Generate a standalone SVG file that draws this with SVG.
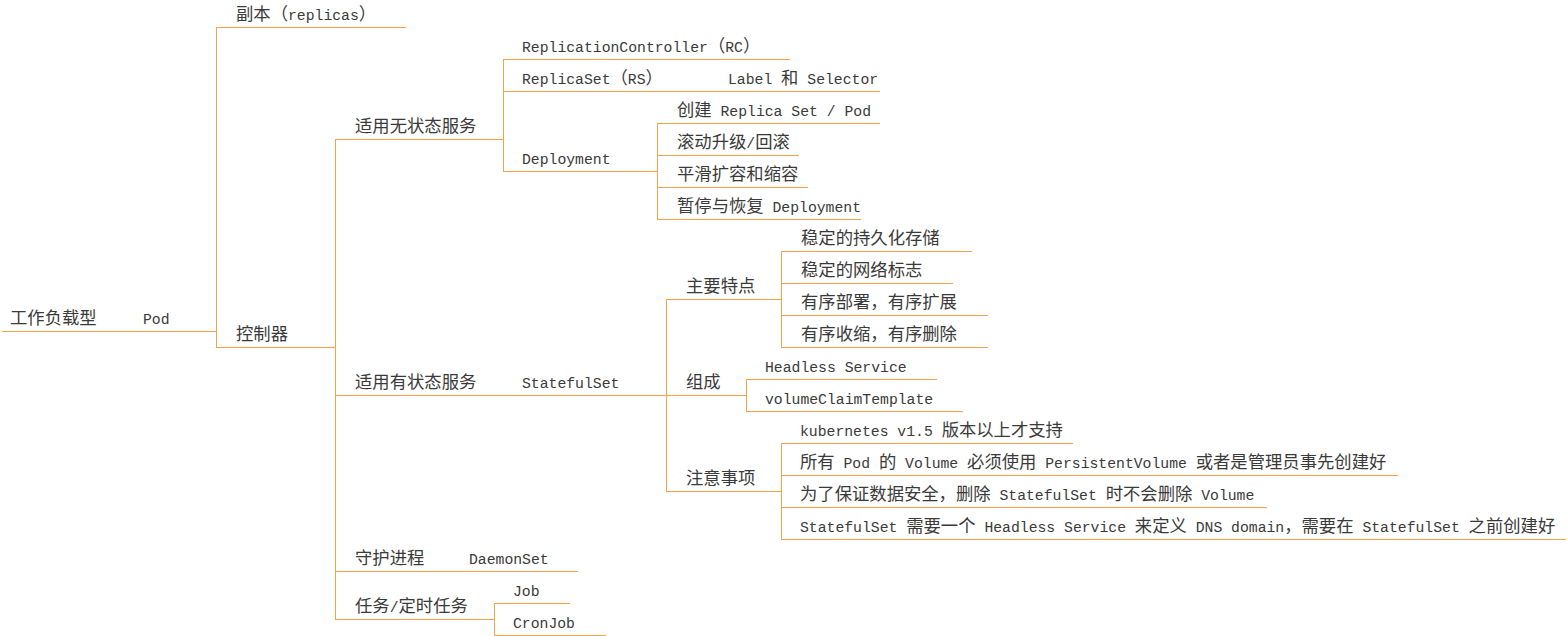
<svg xmlns="http://www.w3.org/2000/svg" width="1567" height="636" viewBox="0 0 1567 636">
<style>
text { font-family: "Liberation Mono", "Noto Sans CJK SC", monospace; font-size: 14.75px; fill: #3a3a3a; }
.c { font-family: "Noto Sans CJK SC", "Liberation Mono", sans-serif; font-size: 17.33px; }
line { stroke: #F4A24E; stroke-width: 1; fill: none; }
</style>
<rect width="1567" height="636" fill="#ffffff"/>
<g id="connectors">
<line x1="216.5" y1="27.5" x2="216.5" y2="347.5"/>
<line x1="335.5" y1="139.5" x2="335.5" y2="619.5"/>
<line x1="503.5" y1="59.5" x2="503.5" y2="171.5"/>
<line x1="657.5" y1="123.5" x2="657.5" y2="219.5"/>
<line x1="666.5" y1="299.5" x2="666.5" y2="491.5"/>
<line x1="781.5" y1="251.5" x2="781.5" y2="347.5"/>
<line x1="746.5" y1="379.5" x2="746.5" y2="411.5"/>
<line x1="781.5" y1="443.5" x2="781.5" y2="539.5"/>
<line x1="494.5" y1="603.5" x2="494.5" y2="635.5"/>
</g>
<g id="n-root"><line x1="2" y1="331.5" x2="124" y2="331.5"/><text x="10" y="324" class="c">工作负载型</text></g>
<g id="n-pod"><line x1="124" y1="331.5" x2="216.5" y2="331.5"/><text x="143" y="324">Pod</text></g>
<g id="n-replicas"><line x1="216" y1="27.5" x2="406" y2="27.5"/><text x="236" y="20"><tspan class="c">副本（</tspan>replicas<tspan class="c">）</tspan></text></g>
<g id="n-controller"><line x1="216" y1="347.5" x2="335.5" y2="347.5"/><text x="236" y="340" class="c">控制器</text></g>
<g id="n-stateless"><line x1="335" y1="139.5" x2="503.5" y2="139.5"/><text x="355" y="132" class="c">适用无状态服务</text></g>
<g id="n-rc"><line x1="503" y1="59.5" x2="790" y2="59.5"/><text x="522" y="52">ReplicationController<tspan class="c">（</tspan>RC<tspan class="c">）</tspan></text></g>
<g id="n-rs"><line x1="503" y1="91.5" x2="710" y2="91.5"/><text x="522" y="84">ReplicaSet<tspan class="c">（</tspan>RS<tspan class="c">）</tspan></text></g>
<g id="n-label"><line x1="710" y1="91.5" x2="880" y2="91.5"/><text x="728" y="84">Label <tspan class="c">和</tspan> Selector</text></g>
<g id="n-deployment"><line x1="503" y1="171.5" x2="657.5" y2="171.5"/><text x="522" y="164">Deployment</text></g>
<g id="n-create"><line x1="657" y1="123.5" x2="880" y2="123.5"/><text x="677" y="116"><tspan class="c">创建</tspan> Replica Set / Pod</text></g>
<g id="n-rolling"><line x1="657" y1="155.5" x2="799" y2="155.5"/><text x="677" y="148"><tspan class="c">滚动升级</tspan>/<tspan class="c">回滚</tspan></text></g>
<g id="n-scale"><line x1="657" y1="187.5" x2="808" y2="187.5"/><text x="677" y="180" class="c">平滑扩容和缩容</text></g>
<g id="n-pause"><line x1="657" y1="219.5" x2="861" y2="219.5"/><text x="677" y="212"><tspan class="c">暂停与恢复</tspan> Deployment</text></g>
<g id="n-stateful"><line x1="335" y1="395.5" x2="503" y2="395.5"/><text x="355" y="388" class="c">适用有状态服务</text></g>
<g id="n-statefulset"><line x1="503" y1="395.5" x2="666.5" y2="395.5"/><text x="522" y="388">StatefulSet</text></g>
<g id="n-features"><line x1="666" y1="299.5" x2="781.5" y2="299.5"/><text x="686" y="292" class="c">主要特点</text></g>
<g id="n-f1"><line x1="781" y1="251.5" x2="972" y2="251.5"/><text x="801" y="244" class="c">稳定的持久化存储</text></g>
<g id="n-f2"><line x1="781" y1="283.5" x2="953" y2="283.5"/><text x="801" y="276" class="c">稳定的网络标志</text></g>
<g id="n-f3"><line x1="781" y1="315.5" x2="988" y2="315.5"/><text x="801" y="308" class="c">有序部署，有序扩展</text></g>
<g id="n-f4"><line x1="781" y1="347.5" x2="988" y2="347.5"/><text x="801" y="340" class="c">有序收缩，有序删除</text></g>
<g id="n-compose"><line x1="666" y1="395.5" x2="746.5" y2="395.5"/><text x="686" y="388" class="c">组成</text></g>
<g id="n-headless"><line x1="746" y1="379.5" x2="937" y2="379.5"/><text x="765" y="372">Headless Service</text></g>
<g id="n-vct"><line x1="746" y1="411.5" x2="963" y2="411.5"/><text x="765" y="404">volumeClaimTemplate</text></g>
<g id="n-notes"><line x1="666" y1="491.5" x2="781.5" y2="491.5"/><text x="686" y="484" class="c">注意事项</text></g>
<g id="n-k8s"><line x1="781" y1="443.5" x2="1073" y2="443.5"/><text x="800" y="436">kubernetes v1.5 <tspan class="c">版本以上才支持</tspan></text></g>
<g id="n-pv"><line x1="781" y1="475.5" x2="1398" y2="475.5"/><text x="800" y="468"><tspan class="c">所有</tspan> Pod <tspan class="c">的</tspan> Volume <tspan class="c">必须使用</tspan> PersistentVolume <tspan class="c">或者是管理员事先创建好</tspan></text></g>
<g id="n-safe"><line x1="781" y1="507.5" x2="1267" y2="507.5"/><text x="800" y="500"><tspan class="c">为了保证数据安全，删除</tspan> StatefulSet <tspan class="c">时不会删除</tspan> Volume</text></g>
<g id="n-dns"><line x1="781" y1="539.5" x2="1566" y2="539.5"/><text x="800" y="532">StatefulSet <tspan class="c">需要一个</tspan> Headless Service <tspan class="c">来定义</tspan> DNS domain<tspan class="c">，需要在</tspan> StatefulSet <tspan class="c">之前创建好</tspan></text></g>
<g id="n-daemon"><line x1="335" y1="571.5" x2="450" y2="571.5"/><text x="355" y="564" class="c">守护进程</text></g>
<g id="n-daemonset"><line x1="450" y1="571.5" x2="578" y2="571.5"/><text x="469" y="564">DaemonSet</text></g>
<g id="n-task"><line x1="335" y1="619.5" x2="494.5" y2="619.5"/><text x="355" y="612"><tspan class="c">任务</tspan>/<tspan class="c">定时任务</tspan></text></g>
<g id="n-job"><line x1="494" y1="603.5" x2="570" y2="603.5"/><text x="513" y="596">Job</text></g>
<g id="n-cronjob"><line x1="494" y1="635.5" x2="606" y2="635.5"/><text x="513" y="628">CronJob</text></g>
</svg>
